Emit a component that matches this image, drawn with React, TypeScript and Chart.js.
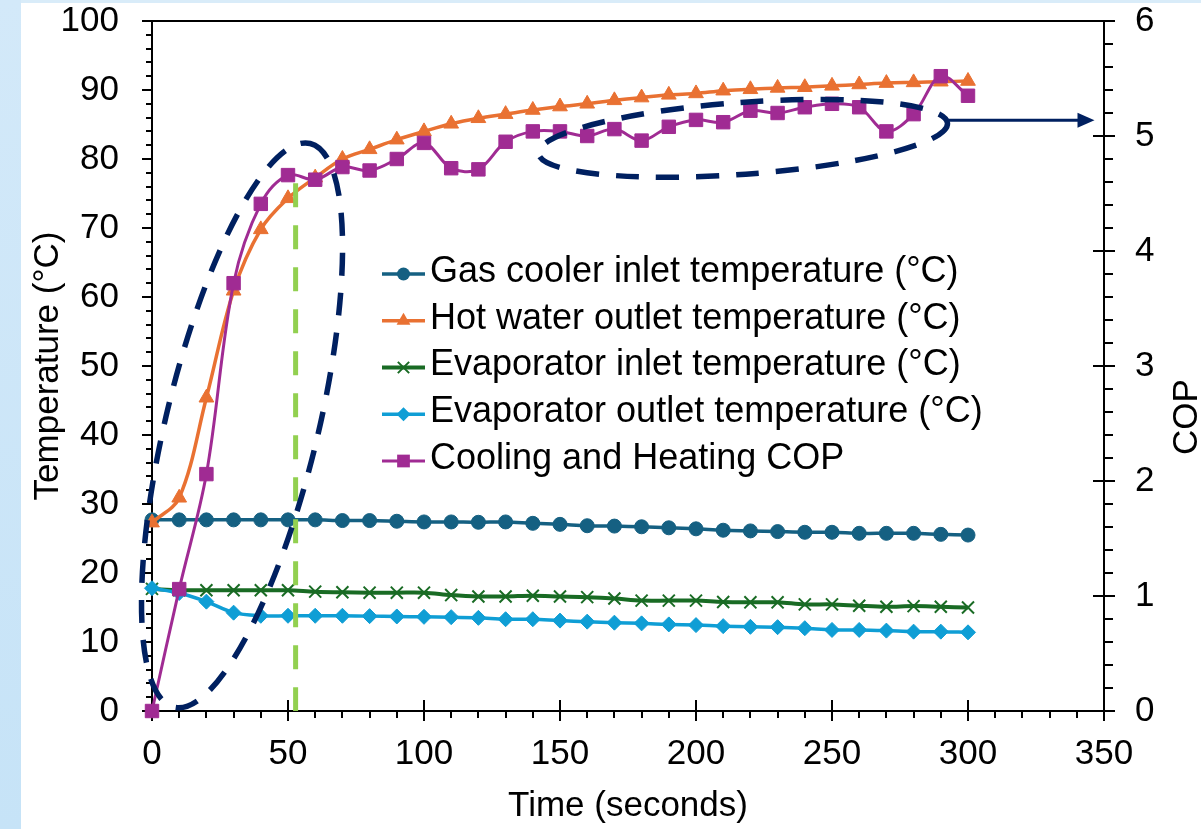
import React, { useEffect, useRef } from 'react';
import { Chart, registerables } from 'chart.js';

Chart.register(...registerables);

const FONT = '"Liberation Sans", Arial, Helvetica, sans-serif';

// ---------------- data ----------------
const timeSeconds = [0, 10, 20, 30, 40, 50, 60, 70, 80, 90, 100, 110, 120, 130, 140, 150, 160, 170, 180, 190, 200, 210, 220, 230, 240, 250, 260, 270, 280, 290, 300];

const gasCoolerInlet = [27.7, 27.7, 27.7, 27.7, 27.7, 27.7, 27.7, 27.6, 27.6, 27.5, 27.4, 27.4, 27.35, 27.4, 27.2, 27.05, 26.85, 26.8, 26.7, 26.55, 26.4, 26.2, 26.1, 26.0, 25.9, 25.9, 25.75, 25.75, 25.75, 25.6, 25.5];
const hotWaterOutlet = [27.3, 30.9, 45.4, 60.9, 69.8, 74.3, 77.3, 80.0, 81.4, 82.8, 84.0, 85.1, 85.9, 86.5, 87.1, 87.6, 88.0, 88.5, 88.9, 89.3, 89.5, 89.9, 90.1, 90.3, 90.4, 90.6, 90.8, 91.0, 91.1, 91.2, 91.3];
const evaporatorInlet = [17.7, 17.5, 17.5, 17.5, 17.5, 17.5, 17.3, 17.2, 17.15, 17.15, 17.15, 16.8, 16.6, 16.6, 16.7, 16.6, 16.5, 16.3, 16.0, 16.0, 16.0, 15.8, 15.75, 15.75, 15.45, 15.45, 15.25, 15.1, 15.2, 15.1, 15.0];
const evaporatorOutlet = [17.8, 17.1, 15.85, 14.25, 13.8, 13.8, 13.8, 13.8, 13.75, 13.7, 13.65, 13.6, 13.5, 13.3, 13.3, 13.1, 12.95, 12.8, 12.7, 12.55, 12.45, 12.3, 12.2, 12.15, 12.0, 11.75, 11.75, 11.65, 11.5, 11.5, 11.4];
const coolingHeatingCOP = [0, 1.06, 2.06, 3.72, 4.41, 4.66, 4.62, 4.73, 4.70, 4.80, 4.94, 4.72, 4.71, 4.95, 5.04, 5.04, 5.00, 5.06, 4.96, 5.08, 5.14, 5.12, 5.22, 5.20, 5.25, 5.28, 5.25, 5.04, 5.19, 5.52, 5.35];

const seriesNames = [
  'Gas cooler inlet temperature (°C)',
  'Hot water outlet temperature (°C)',
  'Evaporator inlet temperature (°C)',
  'Evaporator outlet temperature (°C)',
  'Cooling and Heating COP',
];
const seriesValues = [gasCoolerInlet, hotWaterOutlet, evaporatorInlet, evaporatorOutlet, coolingHeatingCOP];
const seriesAxes = ['y', 'y', 'y', 'y', 'y2'];
const seriesColors = ['#156082', '#E97132', '#196B24', '#0F9ED5', '#A02B93'];
const seriesMarkers = ['circle', 'triangle', 'crossRot', 'rectRot', 'rect'];
const markerRadii = [7, 8.5, 8.5, 7.5, 9.5];
const lineWidths = [3.5, 3.5, 4, 3.5, 3];

const xAxisTitle = 'Time (seconds)';
const yAxisTitle = 'Temperature (°C)';
const y2AxisTitle = 'COP';

// annotation overlays (data units for anchors)
const greenLineTime = 52.8;
const greenLineTop = 76.5;
const ellipseA = { t: 33.1, temp: 41.4, a: 290, b: 76, rot: -76.4 };
const ellipseB = { t: 217.3, temp: 83.0, a: 205, b: 36, rot: -4.2 };
const arrowLine = { from: 292.6, to: 346.5, temp: 85.6 };

function drawMarker(ctx: CanvasRenderingContext2D, style: string, x: number, y: number, r: number, color: string) {
  ctx.save();
  ctx.fillStyle = color;
  ctx.strokeStyle = color;
  ctx.lineWidth = 1;
  ctx.setLineDash([]);
  ctx.beginPath();
  if (style === 'circle') {
    ctx.arc(x, y, r, 0, Math.PI * 2);
    ctx.fill();
  } else if (style === 'triangle') {
    ctx.moveTo(x, y - r);
    ctx.lineTo(x + r * 0.866, y + r * 0.5);
    ctx.lineTo(x - r * 0.866, y + r * 0.5);
    ctx.closePath();
    ctx.fill();
  } else if (style === 'crossRot') {
    const d = r * 0.7071;
    ctx.lineWidth = 2;
    ctx.moveTo(x - d, y - d);
    ctx.lineTo(x + d, y + d);
    ctx.moveTo(x + d, y - d);
    ctx.lineTo(x - d, y + d);
    ctx.stroke();
  } else if (style === 'rectRot') {
    ctx.moveTo(x - r, y);
    ctx.lineTo(x, y - r);
    ctx.lineTo(x + r, y);
    ctx.lineTo(x, y + r);
    ctx.closePath();
    ctx.fill();
  } else {
    const s = r * 0.7071;
    ctx.rect(x - s, y - s, 2 * s, 2 * s);
    ctx.fill();
  }
  ctx.restore();
}

const decorPlugin = {
  id: 'decor',
  beforeDraw(chart: any) {
    const ctx = chart.ctx as CanvasRenderingContext2D;
    ctx.save();
    ctx.fillStyle = '#ffffff';
    ctx.fillRect(0, 0, chart.width, chart.height);
    ctx.fillStyle = '#d9ecf9';
    ctx.fillRect(0, 0, chart.width, 3);
    const g = ctx.createLinearGradient(0, 0, 0, chart.height);
    g.addColorStop(0, '#d3e9f9');
    g.addColorStop(1, '#c6e3f7');
    ctx.fillStyle = g;
    ctx.fillRect(0, 0, 21, chart.height);
    ctx.restore();
  },
  beforeDatasetsDraw(chart: any) {
    const ctx = chart.ctx as CanvasRenderingContext2D;
    const { left, right, top, bottom } = chart.chartArea;
    const sx = chart.scales.x;
    const sy = chart.scales.y;
    const sy2 = chart.scales.y2;
    ctx.save();
    ctx.strokeStyle = '#000';
    ctx.lineWidth = 2;
    ctx.beginPath();
    ctx.moveTo(left, top);
    ctx.lineTo(right, top);
    ctx.moveTo(left, bottom);
    ctx.lineTo(right, bottom);
    ctx.moveTo(left, top);
    ctx.lineTo(left, bottom + 1);
    ctx.moveTo(right, top - 1);
    ctx.lineTo(right, bottom + 1);
    ctx.stroke();
    ctx.lineWidth = 2;
    ctx.beginPath();
    for (let v = 0; v <= 100; v += 2) {
      const py = Math.round(sy.getPixelForValue(v));
      const major = v % 10 === 0;
      ctx.moveTo(left - (major ? 10 : 6), py);
      ctx.lineTo(left, py);
    }
    for (let v = 0; v <= 350; v += 10) {
      const px = Math.round(sx.getPixelForValue(v));
      const major = v % 50 === 0;
      ctx.moveTo(px, major ? bottom - 11 : bottom);
      ctx.lineTo(px, bottom + (major ? 10 : 7));
    }
    for (let i = 0; i <= 30; i++) {
      const v = i / 5;
      const py = Math.round(sy2.getPixelForValue(v));
      const major = i % 5 === 0;
      ctx.moveTo(major ? right - 11 : right, py);
      ctx.lineTo(right + (major ? 11 : 9), py);
    }
    ctx.stroke();
    ctx.restore();
  },
  afterDatasetsDraw(chart: any) {
    const ctx = chart.ctx as CanvasRenderingContext2D;
    const sx = chart.scales.x;
    const sy = chart.scales.y;
    const { bottom } = chart.chartArea;
    ctx.save();
    // green dashed vertical line
    ctx.strokeStyle = '#92D050';
    ctx.lineWidth = 5;
    ctx.setLineDash([24, 18]);
    ctx.beginPath();
    const gx = sx.getPixelForValue(greenLineTime);
    ctx.moveTo(gx, sy.getPixelForValue(greenLineTop));
    ctx.lineTo(gx, bottom);
    ctx.stroke();

    // navy dashed ellipses
    ctx.strokeStyle = '#002060';
    ctx.lineWidth = 5.5;
    ctx.setLineDash([23, 17]);
    for (const e of [ellipseA, ellipseB]) {
      ctx.beginPath();
      ctx.ellipse(sx.getPixelForValue(e.t), sy.getPixelForValue(e.temp), e.a, e.b, (e.rot * Math.PI) / 180, 0, Math.PI * 2);
      ctx.stroke();
    }

    // arrow
    ctx.setLineDash([]);
    ctx.lineWidth = 3;
    const ay = sy.getPixelForValue(arrowLine.temp);
    const ax0 = sx.getPixelForValue(arrowLine.from);
    const ax1 = sx.getPixelForValue(arrowLine.to);
    ctx.beginPath();
    ctx.moveTo(ax0, ay);
    ctx.lineTo(ax1 - 14, ay);
    ctx.stroke();
    ctx.fillStyle = '#002060';
    ctx.beginPath();
    ctx.moveTo(ax1, ay);
    ctx.lineTo(ax1 - 17, ay - 7.5);
    ctx.lineTo(ax1 - 17, ay + 7.5);
    ctx.closePath();
    ctx.fill();

    // legend
    const legX0 = 382;
    const legX1 = 425;
    const legTextX = 430;
    const legY0 = 274;
    const legStep = 46.75;
    ctx.font = `36px ${FONT}`;
    ctx.textBaseline = 'middle';
    ctx.textAlign = 'left';
    seriesNames.forEach((name, i) => {
      const y = legY0 + i * legStep;
      ctx.strokeStyle = seriesColors[i];
      ctx.lineWidth = lineWidths[i];
      ctx.beginPath();
      ctx.moveTo(legX0, y);
      ctx.lineTo(legX1, y);
      ctx.stroke();
      drawMarker(ctx, seriesMarkers[i], (legX0 + legX1) / 2, y, markerRadii[i] - 0.5, seriesColors[i]);
      ctx.fillStyle = '#000';
      ctx.fillText(name, legTextX, y - 2);
    });

    // right axis title (reads bottom-to-top)
    ctx.save();
    ctx.font = `35px ${FONT}`;
    ctx.translate(1187, 417);
    ctx.rotate(-Math.PI / 2);
    ctx.textAlign = 'center';
    ctx.textBaseline = 'middle';
    ctx.fillStyle = '#000';
    ctx.fillText(y2AxisTitle, 0, 0);
    ctx.restore();

    ctx.restore();
  },
};

export default function App() {
  const canvasRef = useRef<HTMLCanvasElement | null>(null);

  useEffect(() => {
    const canvas = canvasRef.current;
    if (!canvas) return;
    const tickFont = { family: FONT, size: 35 };
    const datasets = seriesNames.map((name, i) => ({
      label: name,
      data: timeSeconds.map((t, j) => ({ x: t, y: seriesValues[i][j] })),
      yAxisID: seriesAxes[i],
      borderColor: seriesColors[i],
      backgroundColor: seriesColors[i],
      borderWidth: lineWidths[i],
      pointStyle: seriesMarkers[i],
      pointRadius: markerRadii[i],
      pointBorderWidth: seriesMarkers[i] === 'crossRot' ? 2 : 1,
      pointBorderColor: seriesColors[i],
      pointBackgroundColor: seriesColors[i],
      tension: 0.35,
      fill: false,
      clip: false,
      order: 5 - i,
    }));
    const zeroPad = (s: any) => {
      s.paddingTop = 0;
      s.paddingBottom = 0;
      s.paddingLeft = 0;
      s.paddingRight = 0;
    };
    const chart = new Chart(canvas, {
      type: 'line',
      data: { datasets },
      options: {
        responsive: false,
        animation: false,
        devicePixelRatio: 1,
        layout: { padding: { top: 21, left: 0, right: 0, bottom: 0 }, autoPadding: false },
        plugins: { legend: { display: false }, tooltip: { enabled: false } },
        scales: {
          x: {
            type: 'linear',
            min: 0,
            max: 350,
            grid: { display: false, drawTicks: false },
            border: { display: false },
            ticks: { stepSize: 50, font: tickFont, color: '#000', padding: 22, maxRotation: 0, autoSkip: false },
            title: { display: true, text: xAxisTitle, font: tickFont, color: '#000', padding: { top: 0, bottom: 2 } },
            afterFit: (s: any) => { s.height = 118; zeroPad(s); },
          },
          y: {
            position: 'left',
            min: 0,
            max: 100,
            grid: { display: false, drawTicks: false },
            border: { display: false },
            ticks: { stepSize: 10, font: tickFont, color: '#000', padding: 33 },
            title: { display: true, text: yAxisTitle, font: tickFont, color: '#000', padding: { top: 27, bottom: 0 } },
            afterFit: (s: any) => { s.width = 152; zeroPad(s); },
          },
          y2: {
            position: 'right',
            min: 0,
            max: 6,
            grid: { display: false, drawTicks: false },
            border: { display: false },
            ticks: { stepSize: 1, font: tickFont, color: '#000', padding: 31 },
            afterFit: (s: any) => { s.width = 97; zeroPad(s); },
          },
        },
      } as any,
      plugins: [decorPlugin],
    });
    return () => chart.destroy();
  }, []);

  return (
    <canvas
      ref={canvasRef}
      width={1201}
      height={829}
      style={{ position: 'fixed', left: 0, top: 0, width: 1201, height: 829 }}
    />
  );
}
